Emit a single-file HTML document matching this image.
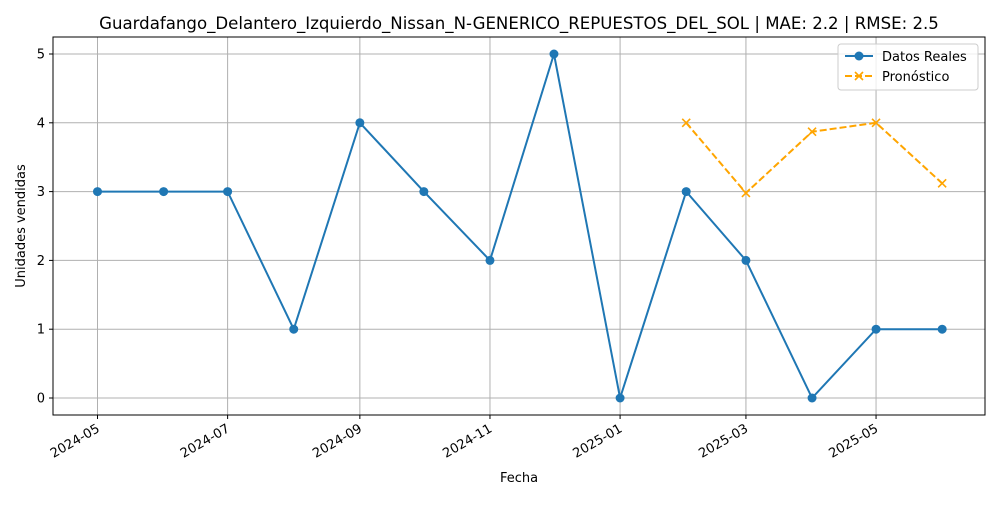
<!DOCTYPE html>
<html><head><meta charset="utf-8"><style>
body{margin:0;background:#fff;}
svg{font-family:"DejaVu Sans","Liberation Sans",sans-serif;}
</style></head><body>
<svg id="c" width="1000" height="500" xmlns="http://www.w3.org/2000/svg"></svg>
<script>
const realDates=["2024-05-01","2024-06-01","2024-07-01","2024-08-01","2024-09-01","2024-10-01","2024-11-01","2024-12-01","2025-01-01","2025-02-01","2025-03-01","2025-04-01","2025-05-01","2025-06-01"];
const realValues=[3,3,3,1,4,3,2,5,0,3,2,0,1,1];
const fcDates=["2025-02-01","2025-03-01","2025-04-01","2025-05-01","2025-06-01"];
const fcValues=[4.0,2.98,3.87,4.0,3.12];
const xTickLabels=["2024-05","2024-07","2024-09","2024-11","2025-01","2025-03","2025-05"];
const yTicks=[0,1,2,3,4,5];

const NS="http://www.w3.org/2000/svg";
const svg=document.getElementById('c');
const L=53,R=985,T=37,B=415;
const t0=Date.parse("2024-05-01");
function xs(d){return 97.5+(Date.parse(d)-t0)/86400000*2.133;}
function ys(v){return 398-v*68.8;}
function el(tag,a,p){const e=document.createElementNS(NS,tag);for(const k in a)e.setAttribute(k,a[k]);(p||svg).appendChild(e);return e;}

yTicks.forEach(v=>{const g=el('line',{x1:L,x2:R,y1:ys(v),y2:ys(v),stroke:'#b0b0b0','stroke-width':1});


const tk=el('line',{x1:L-4,x2:L,y1:ys(v),y2:ys(v),stroke:'#000','stroke-width':1});


const t=el('text',{x:L-8,y:ys(v)+4.5,'text-anchor':'end','font-size':13});t.textContent=v;

});
xTickLabels.forEach(s=>{const x=xs(s+"-01");
const g=el('line',{x1:x,x2:x,y1:T,y2:B,stroke:'#b0b0b0','stroke-width':1});


const tk=el('line',{x1:x,x2:x,y1:B,y2:B+4,stroke:'#000','stroke-width':1});


const t=el('text',{x:x+3,y:B+16,'text-anchor':'end','font-size':13,transform:`rotate(-30 ${x+3} ${B+16})`});t.textContent=s;

});
const frame=el('rect',{x:L,y:T,width:R-L,height:B-T,fill:'none',stroke:'#000','stroke-width':1});



const rp=el('polyline',{points:realDates.map((d,i)=>xs(d)+','+ys(realValues[i])).join(' '),fill:'none',stroke:'#1f77b4','stroke-width':2});


realDates.forEach((d,i)=>{const c=el('circle',{cx:xs(d),cy:ys(realValues[i]),r:4.5,fill:'#1f77b4'});

});
const fp=el('polyline',{points:fcDates.map((d,i)=>xs(d)+','+ys(fcValues[i])).join(' '),fill:'none',stroke:'#ffa500','stroke-width':2,'stroke-dasharray':'7,3'});


fcDates.forEach((d,i)=>{const x=xs(d),y=ys(fcValues[i]);
const m=el('path',{d:`M${x-4},${y-4}L${x+4},${y+4}M${x-4},${y+4}L${x+4},${y-4}`,stroke:'#ffa500','stroke-width':1.6});

});
</script>
<svg style="position:absolute;left:0;top:0" width="1000" height="500" xmlns="http://www.w3.org/2000/svg" font-family="DejaVu Sans, Liberation Sans, sans-serif">
<text x="519" y="29" text-anchor="middle" font-size="16.6">Guardafango_Delantero_Izquierdo_Nissan_N-GENERICO_REPUESTOS_DEL_SOL | MAE: 2.2 | RMSE: 2.5</text>
<text x="519" y="482" text-anchor="middle" font-size="13">Fecha</text>
<text x="25" y="226" text-anchor="middle" font-size="13" transform="rotate(-90 25 226)">Unidades vendidas</text>
<g>
<rect x="838" y="44" width="140" height="46" rx="3" fill="#fff" fill-opacity="0.8" stroke="#ccc"/>
<g>
<line x1="845" x2="873" y1="56" y2="56" stroke="#1f77b4" stroke-width="2"/><circle cx="859" cy="56" r="4.5" fill="#1f77b4"/>
<text x="882" y="61" font-size="13">Datos Reales</text></g>
<g>
<line x1="845" x2="873" y1="76" y2="76" stroke="#ffa500" stroke-width="2" stroke-dasharray="7,3"/><path d="M855,72L863,80M855,80L863,72" stroke="#ffa500" stroke-width="1.6"/>
<text x="882" y="81" font-size="13">Pronóstico</text></g>
</g>
</svg>
</body></html>
